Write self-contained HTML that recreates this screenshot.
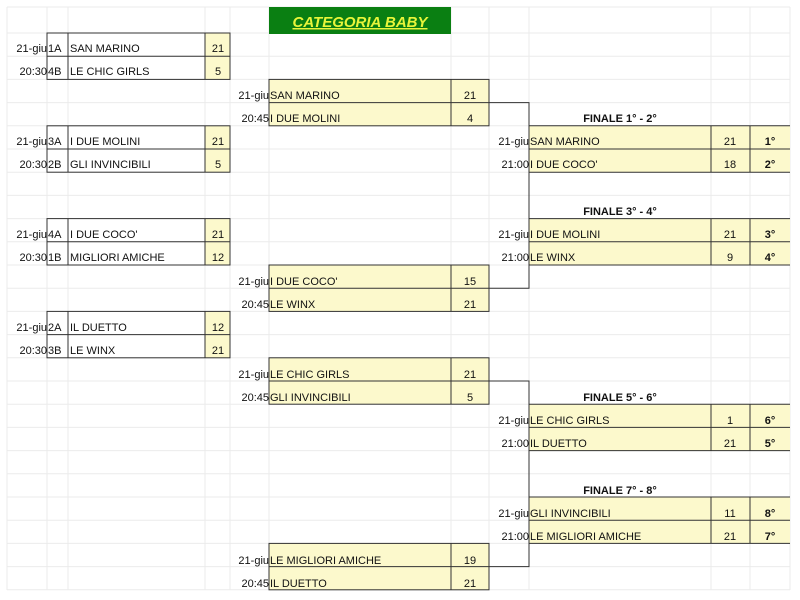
<!DOCTYPE html>
<html><head><meta charset="utf-8"><style>
html,body{margin:0;padding:0;background:#fff;width:800px;height:600px;overflow:hidden}
svg{display:block}
text{font-family:"Liberation Sans",Arial,sans-serif;font-size:11px;fill:#111}
.b{font-weight:bold}
.e{text-anchor:end}.m{text-anchor:middle}
</style></head><body>
<svg width="800" height="600" viewBox="0 0 800 600">
<g stroke="#ebebeb" stroke-width="1">
<line x1="7" y1="7" x2="790" y2="7"/>
<line x1="7" y1="33" x2="790" y2="33"/><line x1="7" y1="56.2" x2="790" y2="56.2"/><line x1="7" y1="79.4" x2="790" y2="79.4"/><line x1="7" y1="102.6" x2="790" y2="102.6"/><line x1="7" y1="125.8" x2="790" y2="125.8"/><line x1="7" y1="149" x2="790" y2="149"/><line x1="7" y1="172.2" x2="790" y2="172.2"/><line x1="7" y1="195.4" x2="790" y2="195.4"/><line x1="7" y1="218.6" x2="790" y2="218.6"/><line x1="7" y1="241.8" x2="790" y2="241.8"/><line x1="7" y1="265" x2="790" y2="265"/><line x1="7" y1="288.2" x2="790" y2="288.2"/><line x1="7" y1="311.4" x2="790" y2="311.4"/><line x1="7" y1="334.6" x2="790" y2="334.6"/><line x1="7" y1="357.8" x2="790" y2="357.8"/><line x1="7" y1="381" x2="790" y2="381"/><line x1="7" y1="404.2" x2="790" y2="404.2"/><line x1="7" y1="427.4" x2="790" y2="427.4"/><line x1="7" y1="450.6" x2="790" y2="450.6"/><line x1="7" y1="473.8" x2="790" y2="473.8"/><line x1="7" y1="497" x2="790" y2="497"/><line x1="7" y1="520.2" x2="790" y2="520.2"/><line x1="7" y1="543.4" x2="790" y2="543.4"/><line x1="7" y1="566.6" x2="790" y2="566.6"/><line x1="7" y1="589.8" x2="790" y2="589.8"/>
<line x1="7" y1="7" x2="7" y2="590"/><line x1="47" y1="7" x2="47" y2="590"/><line x1="68" y1="7" x2="68" y2="590"/><line x1="205" y1="7" x2="205" y2="590"/><line x1="230" y1="7" x2="230" y2="590"/><line x1="269" y1="7" x2="269" y2="590"/><line x1="451" y1="7" x2="451" y2="590"/><line x1="489" y1="7" x2="489" y2="590"/><line x1="529" y1="7" x2="529" y2="590"/><line x1="711" y1="7" x2="711" y2="590"/><line x1="750" y1="7" x2="750" y2="590"/><line x1="790" y1="7" x2="790" y2="590"/>
</g>
<rect x="269" y="7" width="182" height="27" fill="#0a7f12"/>
<text x="360" y="27" class="b m" style="font-size:15px;font-style:italic;fill:#e8f53a;text-decoration:underline">CATEGORIA BABY</text>

<g fill="#fcf9cc">
<rect x="205" y="33" width="25" height="46.4"/><rect x="205" y="125.8" width="25" height="46.4"/><rect x="205" y="218.6" width="25" height="46.4"/><rect x="205" y="311.4" width="25" height="46.4"/>
<rect x="269" y="79.4" width="220" height="46.4"/><rect x="269" y="265" width="220" height="46.4"/><rect x="269" y="357.8" width="220" height="46.4"/><rect x="269" y="543.4" width="220" height="46.4"/>
<rect x="529" y="125.8" width="261" height="46.4"/><rect x="529" y="218.6" width="261" height="46.4"/><rect x="529" y="404.2" width="261" height="46.4"/><rect x="529" y="497" width="261" height="46.4"/>
</g>

<g stroke="#333" stroke-width="1" fill="none">
<rect x="47" y="33" width="183" height="46.4"/><line x1="47" y1="56.2" x2="230" y2="56.2"/><line x1="68" y1="33" x2="68" y2="79.4"/><line x1="205" y1="33" x2="205" y2="79.4"/>
<rect x="47" y="125.8" width="183" height="46.4"/><line x1="47" y1="149" x2="230" y2="149"/><line x1="68" y1="125.8" x2="68" y2="172.2"/><line x1="205" y1="125.8" x2="205" y2="172.2"/>
<rect x="47" y="218.6" width="183" height="46.4"/><line x1="47" y1="241.8" x2="230" y2="241.8"/><line x1="68" y1="218.6" x2="68" y2="265"/><line x1="205" y1="218.6" x2="205" y2="265"/>
<rect x="47" y="311.4" width="183" height="46.4"/><line x1="47" y1="334.6" x2="230" y2="334.6"/><line x1="68" y1="311.4" x2="68" y2="357.8"/><line x1="205" y1="311.4" x2="205" y2="357.8"/>
<rect x="269" y="79.4" width="220" height="46.4"/><line x1="269" y1="102.6" x2="489" y2="102.6"/><line x1="451" y1="79.4" x2="451" y2="125.8"/>
<rect x="269" y="265" width="220" height="46.4"/><line x1="269" y1="288.2" x2="489" y2="288.2"/><line x1="451" y1="265" x2="451" y2="311.4"/>
<rect x="269" y="357.8" width="220" height="46.4"/><line x1="269" y1="381" x2="489" y2="381"/><line x1="451" y1="357.8" x2="451" y2="404.2"/>
<rect x="269" y="543.4" width="220" height="46.4"/><line x1="269" y1="566.6" x2="489" y2="566.6"/><line x1="451" y1="543.4" x2="451" y2="589.8"/>
<polyline points="489,102.6 529,102.6 529,288.2 489,288.2"/>
<polyline points="489,381 529,381 529,566.6 489,566.6"/>
<line x1="529" y1="125.8" x2="790" y2="125.8"/><line x1="529" y1="149" x2="790" y2="149"/><line x1="529" y1="172.2" x2="790" y2="172.2"/><line x1="711" y1="125.8" x2="711" y2="172.2"/><line x1="750" y1="125.8" x2="750" y2="172.2"/>
<line x1="529" y1="218.6" x2="790" y2="218.6"/><line x1="529" y1="241.8" x2="790" y2="241.8"/><line x1="529" y1="265" x2="790" y2="265"/><line x1="711" y1="218.6" x2="711" y2="265"/><line x1="750" y1="218.6" x2="750" y2="265"/>
<line x1="529" y1="404.2" x2="790" y2="404.2"/><line x1="529" y1="427.4" x2="790" y2="427.4"/><line x1="529" y1="450.6" x2="790" y2="450.6"/><line x1="711" y1="404.2" x2="711" y2="450.6"/><line x1="750" y1="404.2" x2="750" y2="450.6"/>
<line x1="529" y1="497" x2="790" y2="497"/><line x1="529" y1="520.2" x2="790" y2="520.2"/><line x1="529" y1="543.4" x2="790" y2="543.4"/><line x1="711" y1="497" x2="711" y2="543.4"/><line x1="750" y1="497" x2="750" y2="543.4"/>
</g>

<text x="47" y="52" class="e">21-giu</text><text x="48" y="52">1A</text><text x="70" y="52">SAN MARINO</text><text x="218" y="52" class="m">21</text>
<text x="47" y="75" class="e">20:30</text><text x="48" y="75">4B</text><text x="70" y="75">LE CHIC GIRLS</text><text x="218" y="75" class="m">5</text>
<text x="47" y="145" class="e">21-giu</text><text x="48" y="145">3A</text><text x="70" y="145">I DUE MOLINI</text><text x="218" y="145" class="m">21</text>
<text x="47" y="168" class="e">20:30</text><text x="48" y="168">2B</text><text x="70" y="168">GLI INVINCIBILI</text><text x="218" y="168" class="m">5</text>
<text x="47" y="238" class="e">21-giu</text><text x="48" y="238">4A</text><text x="70" y="238">I DUE COCO'</text><text x="218" y="238" class="m">21</text>
<text x="47" y="261" class="e">20:30</text><text x="48" y="261">1B</text><text x="70" y="261">MIGLIORI AMICHE</text><text x="218" y="261" class="m">12</text>
<text x="47" y="331" class="e">21-giu</text><text x="48" y="331">2A</text><text x="70" y="331">IL DUETTO</text><text x="218" y="331" class="m">12</text>
<text x="47" y="354" class="e">20:30</text><text x="48" y="354">3B</text><text x="70" y="354">LE WINX</text><text x="218" y="354" class="m">21</text>
<text x="269" y="99" class="e">21-giu</text><text x="270" y="99">SAN MARINO</text><text x="470" y="99" class="m">21</text>
<text x="269" y="122" class="e">20:45</text><text x="270" y="122">I DUE MOLINI</text><text x="470" y="122" class="m">4</text>
<text x="269" y="285" class="e">21-giu</text><text x="270" y="285">I DUE COCO'</text><text x="470" y="285" class="m">15</text>
<text x="269" y="308" class="e">20:45</text><text x="270" y="308">LE WINX</text><text x="470" y="308" class="m">21</text>
<text x="269" y="378" class="e">21-giu</text><text x="270" y="378">LE CHIC GIRLS</text><text x="470" y="378" class="m">21</text>
<text x="269" y="401" class="e">20:45</text><text x="270" y="401">GLI INVINCIBILI</text><text x="470" y="401" class="m">5</text>
<text x="269" y="564" class="e">21-giu</text><text x="270" y="564">LE MIGLIORI AMICHE</text><text x="470" y="564" class="m">19</text>
<text x="269" y="587" class="e">20:45</text><text x="270" y="587">IL DUETTO</text><text x="470" y="587" class="m">21</text>
<text x="620" y="122" class="b m">FINALE 1° - 2°</text>
<text x="529" y="145" class="e">21-giu</text><text x="530" y="145">SAN MARINO</text><text x="730" y="145" class="m">21</text><text x="770" y="145" class="b m">1°</text>
<text x="529" y="168" class="e">21:00</text><text x="530" y="168">I DUE COCO'</text><text x="730" y="168" class="m">18</text><text x="770" y="168" class="b m">2°</text>
<text x="620" y="215" class="b m">FINALE 3° - 4°</text>
<text x="529" y="238" class="e">21-giu</text><text x="530" y="238">I DUE MOLINI</text><text x="730" y="238" class="m">21</text><text x="770" y="238" class="b m">3°</text>
<text x="529" y="261" class="e">21:00</text><text x="530" y="261">LE WINX</text><text x="730" y="261" class="m">9</text><text x="770" y="261" class="b m">4°</text>
<text x="620" y="401" class="b m">FINALE 5° - 6°</text>
<text x="529" y="424" class="e">21-giu</text><text x="530" y="424">LE CHIC GIRLS</text><text x="730" y="424" class="m">1</text><text x="770" y="424" class="b m">6°</text>
<text x="529" y="447" class="e">21:00</text><text x="530" y="447">IL DUETTO</text><text x="730" y="447" class="m">21</text><text x="770" y="447" class="b m">5°</text>
<text x="620" y="494" class="b m">FINALE 7° - 8°</text>
<text x="529" y="517" class="e">21-giu</text><text x="530" y="517">GLI INVINCIBILI</text><text x="730" y="517" class="m">11</text><text x="770" y="517" class="b m">8°</text>
<text x="529" y="540" class="e">21:00</text><text x="530" y="540">LE MIGLIORI AMICHE</text><text x="730" y="540" class="m">21</text><text x="770" y="540" class="b m">7°</text>
</svg>
</body></html>
